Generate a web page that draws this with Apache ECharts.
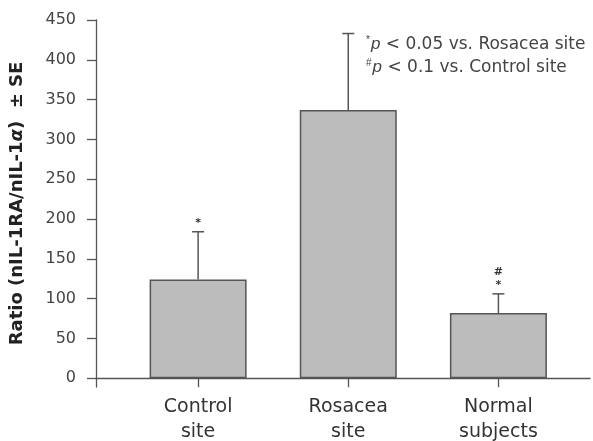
<!DOCTYPE html>
<html>
<head>
<meta charset="utf-8">
<script src="https://cdn.jsdelivr.net/npm/echarts@6/dist/echarts.min.js"></script>
<style>
  html, body { margin: 0; padding: 0; background: #fff; }
  #chart { width: 593px; height: 441px; }
</style>
</head>
<body>
<div id="chart"></div>
<script>
// Group labels, means, upper SE limits and significance markers
const categories = ['Control\nsite', 'Rosacea\nsite', 'Normal\nsubjects'];
const means = [124, 337, 82];
const upperSE = [184, 433, 106];
const sigMarks = ['*', '', '#\n*'];
const yTicks = [0, 50, 100, 150, 200, 250, 300, 350, 400, 450];

const FONT = '"DejaVu Sans", "Liberation Sans", Arial, sans-serif';
const AXIS = '#555';
const positions = categories.map((_, i) => i);

const chart = echarts.init(document.getElementById('chart'));

chart.setOption({
  animation: false,
  backgroundColor: '#fff',
  grid: { left: 96, right: 3, top: 20, bottom: 54, containLabel: false, outerBoundsMode: 'none' },
  xAxis: {
    type: 'value',
    min: -0.68,
    max: 2.61,
    splitLine: { show: false },
    axisLine: { show: true, onZero: true, lineStyle: { color: AXIS, width: 1.3 } },
    axisTick: { show: true, length: 9, customValues: positions, lineStyle: { color: AXIS, width: 1.3 } },
    axisLabel: {
      customValues: positions,
      formatter: v => categories[Math.round(v)],
      color: '#333',
      fontFamily: FONT,
      fontSize: 19,
      lineHeight: 25,
      margin: 8
    }
  },
  yAxis: {
    type: 'value',
    min: -11,
    max: 450,
    splitLine: { show: false },
    axisLine: { show: true, onZero: false, lineStyle: { color: AXIS, width: 1.3 } },
    axisTick: { show: true, length: 9, customValues: yTicks, lineStyle: { color: AXIS, width: 1.3 } },
    axisLabel: {
      customValues: yTicks,
      color: '#444',
      fontFamily: FONT,
      fontSize: 16,
      margin: 20
    },
    name: 'Ratio (nIL-1RA/nIL-1{a|α})  ± SE',
    nameLocation: 'middle',
    nameGap: 70,
    nameRotate: 90,
    nameTextStyle: {
      color: '#222',
      fontFamily: FONT,
      fontSize: 18,
      fontWeight: 'bold',
      rich: {
        a: { fontStyle: 'italic', fontWeight: 'bold', fontSize: 18, fontFamily: FONT, color: '#222' }
      }
    }
  },
  series: [
    {
      type: 'bar',
      barWidth: 97,
      data: means.map((v, i) => [i, v]),
      itemStyle: { color: '#bcbcbc', borderColor: '#555', borderWidth: 1.5 },
      z: 2
    },
    {
      type: 'custom',
      data: means.map((v, i) => [i, v, upperSE[i]]),
      z: 3,
      renderItem: function (params, api) {
        const i = api.value(0);
        const base = api.coord([i, api.value(1)]);
        const top = api.coord([i, api.value(2)]);
        const capHalf = 6;
        const children = [
          { type: 'line', shape: { x1: base[0], y1: base[1], x2: top[0], y2: top[1] },
            style: { stroke: '#555', lineWidth: 1.5 } },
          { type: 'line', shape: { x1: top[0] - capHalf, y1: top[1], x2: top[0] + capHalf, y2: top[1] },
            style: { stroke: '#555', lineWidth: 1.5 } }
        ];
        const mark = sigMarks[params.dataIndex];
        if (mark) {
          children.push({
            type: 'text',
            x: top[0],
            y: top[1] - 2,
            style: {
              text: mark,
              fill: '#333',
              font: 'bold 11px ' + FONT,
              lineHeight: 13,
              align: 'center',
              verticalAlign: 'bottom'
            }
          });
        }
        return { type: 'group', children: children };
      }
    }
  ],
  graphic: [
    {
      type: 'text',
      left: 366,
      top: 33,
      style: {
        text: '{s|*}{i|p} < 0.05 vs. Rosacea site\n{s|#}{i|p} < 0.1 vs. Control site',
        fill: '#444',
        font: '17px ' + FONT,
        lineHeight: 23,
        rich: {
          s: { fontSize: 10, fill: '#444', lineHeight: 23, padding: [0, 1, 8, 0] },
          i: { fontStyle: 'italic', fontSize: 17, fill: '#444', lineHeight: 23 }
        }
      }
    }
  ]
});
</script>
</body>
</html>
